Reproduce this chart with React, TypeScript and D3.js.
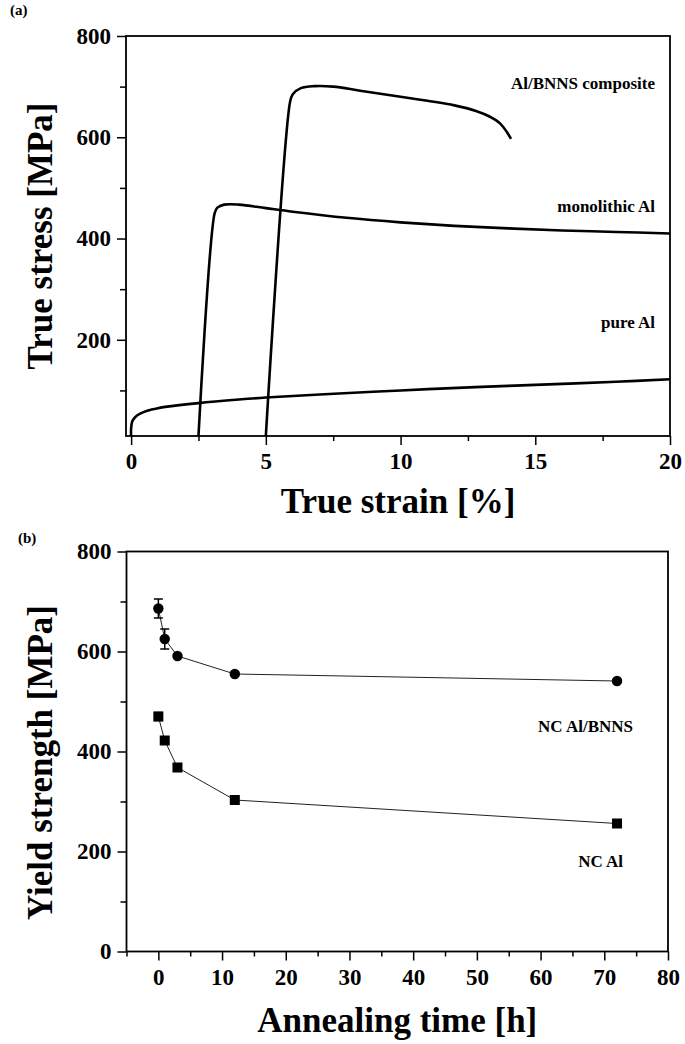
import React, { useEffect, useRef } from 'react';
import * as d3 from 'd3';

// (a) true stress-strain curves: [strain %, stress MPa]
const pureAl: [number, number][] = [
  [0, 10], [0, 25], [0.05, 40], [0.15, 47], [0.3, 53], [0.6, 60], [1, 65], [1.5, 69],
  [2.5, 75], [4, 82], [5, 86], [7, 92], [10, 100], [13, 107], [15, 111], [18, 117], [20, 122],
];
const monolithicAl: [number, number][] = [
  [2.5, 10], [3.1, 450], [3.2, 461], [3.45, 467], [4, 467], [5, 460], [6, 453], [8, 441],
  [10, 432], [12, 425], [14, 420], [16, 416], [18, 413], [20, 410],
];
const composite: [number, number][] = [
  [5.0, 10], [5.9, 670], [6.0, 685], [6.3, 697], [6.8, 701], [7.5, 700], [8.5, 692],
  [10, 680], [11, 672], [12, 663], [12.8, 652], [13.3, 641], [13.7, 627], [13.95, 610], [14.1, 597],
];
const curveLabels = ['Al/BNNS composite', 'monolithic Al', 'pure Al'];

// (b) yield strength vs annealing time
const annealTime = [0, 1, 3, 12, 72];
const compositeYS = [686, 625, 591, 555, 541];
const compositeErr = [19, 20, 3, 3, 3];
const ncAlYS = [470, 422, 368, 303, 256];
const ncAlErr = [8, 6, 4, 4, 4];
const seriesLabels = ['NC Al/BNNS', 'NC Al'];

const strainTicks = [0, 5, 10, 15, 20];
const strainMinor = [2.5, 7.5, 12.5, 17.5];
const stressTicks = [200, 400, 600, 800];
const stressMinor = [100, 300, 500, 700];
const timeTicks = [0, 10, 20, 30, 40, 50, 60, 70, 80];
const timeMinor = [-5, 5, 15, 25, 35, 45, 55, 65, 75];
const ysTicks = [0, 200, 400, 600, 800];
const ysMinor = [100, 300, 500, 700];

const FONT = '"Liberation Serif", "Times New Roman", serif';

export default function App() {
  const ref = useRef<SVGSVGElement>(null);

  useEffect(() => {
    const svg = d3.select(ref.current);
    svg.selectAll('*').remove();

    const styleAxis = (g: any) => {
      g.select('.domain').remove();
      g.selectAll('line').attr('stroke', '#000').attr('stroke-width', 1.5);
      g.selectAll('text')
        .attr('font-family', FONT)
        .attr('font-size', 23)
        .attr('font-weight', 'bold')
        .attr('fill', '#000');
    };

    // ---------- panel (a) ----------
    const xA = d3.scaleLinear().domain([-0.19, 20]).range([126, 670]);
    const yA = d3.scaleLinear().domain([10, 800]).range([436, 36]);

    svg.append('g').attr('transform', `translate(0,${yA.range()[0]})`)
      .call(d3.axisBottom(xA).tickValues(strainTicks).tickSize(9).tickPadding(8).tickFormat(d3.format('d')))
      .call(styleAxis);
    svg.append('g').attr('transform', `translate(0,${yA.range()[0]})`)
      .call(d3.axisBottom(xA).tickValues(strainMinor).tickSize(5).tickFormat(() => ''))
      .call(styleAxis);
    svg.append('g').attr('transform', `translate(${xA.range()[0]},0)`)
      .call(d3.axisLeft(yA).tickValues(stressTicks).tickSize(9).tickPadding(6).tickFormat(d3.format('d')))
      .call(styleAxis);
    svg.append('g').attr('transform', `translate(${xA.range()[0]},0)`)
      .call(d3.axisLeft(yA).tickValues(stressMinor).tickSize(6).tickFormat(() => ''))
      .call(styleAxis);

    svg.append('rect')
      .attr('x', xA.range()[0]).attr('y', yA.range()[1])
      .attr('width', xA.range()[1] - xA.range()[0]).attr('height', yA.range()[0] - yA.range()[1])
      .attr('fill', 'none').attr('stroke', '#000').attr('stroke-width', 1.8);

    const lineA = d3.line<[number, number]>()
      .x(d => xA(d[0]))
      .y(d => yA(d[1]))
      .curve(d3.curveCatmullRom.alpha(0.5));

    [composite, monolithicAl, pureAl].forEach(s => {
      svg.append('path')
        .datum(s)
        .attr('fill', 'none')
        .attr('stroke', '#000')
        .attr('stroke-width', 2.6)
        .attr('d', lineA);
    });

    const labelYA = [89, 212, 328];
    curveLabels.forEach((t, i) => {
      svg.append('text')
        .attr('x', 655).attr('y', labelYA[i])
        .attr('text-anchor', 'end')
        .attr('font-family', FONT).attr('font-size', 17).attr('font-weight', 'bold')
        .text(t);
    });

    svg.append('text')
      .attr('transform', `translate(52,${(yA.range()[0] + yA.range()[1]) / 2}) rotate(-90)`)
      .attr('text-anchor', 'middle')
      .attr('font-family', FONT).attr('font-size', 35).attr('font-weight', 'bold')
      .text('True stress [MPa]');
    svg.append('text')
      .attr('x', (xA.range()[0] + xA.range()[1]) / 2).attr('y', 513)
      .attr('text-anchor', 'middle')
      .attr('font-family', FONT).attr('font-size', 35).attr('font-weight', 'bold')
      .text('True strain [%]');
    svg.append('text')
      .attr('x', 10).attr('y', 15)
      .attr('font-family', FONT).attr('font-size', 15).attr('font-weight', 'bold')
      .text('(a)');

    // ---------- panel (b) ----------
    const xB = d3.scaleLinear().domain([-5, 80]).range([126.5, 668]);
    const yB = d3.scaleLinear().domain([0, 800]).range([951.5, 551.5]);

    svg.append('g').attr('transform', `translate(0,${yB.range()[0]})`)
      .call(d3.axisBottom(xB).tickValues(timeTicks).tickSize(9).tickPadding(8).tickFormat(d3.format('d')))
      .call(styleAxis);
    svg.append('g').attr('transform', `translate(0,${yB.range()[0]})`)
      .call(d3.axisBottom(xB).tickValues(timeMinor).tickSize(5).tickFormat(() => ''))
      .call(styleAxis);
    svg.append('g').attr('transform', `translate(${xB.range()[0]},0)`)
      .call(d3.axisLeft(yB).tickValues(ysTicks).tickSize(9).tickPadding(6).tickFormat(d3.format('d')))
      .call(styleAxis);
    svg.append('g').attr('transform', `translate(${xB.range()[0]},0)`)
      .call(d3.axisLeft(yB).tickValues(ysMinor).tickSize(6).tickFormat(() => ''))
      .call(styleAxis);

    svg.append('rect')
      .attr('x', xB.range()[0]).attr('y', yB.range()[1])
      .attr('width', xB.range()[1] - xB.range()[0]).attr('height', yB.range()[0] - yB.range()[1])
      .attr('fill', 'none').attr('stroke', '#000').attr('stroke-width', 1.8);

    const lineB = d3.line<number>()
      .x((_, i) => xB(annealTime[i]))
      .y(d => yB(d));

    const drawSeries = (vals: number[], errs: number[], shape: 'circle' | 'square') => {
      svg.append('path')
        .datum(vals)
        .attr('fill', 'none')
        .attr('stroke', '#222')
        .attr('stroke-width', 1)
        .attr('d', lineB);
      const g = svg.append('g');
      vals.forEach((v, i) => {
        const cx = xB(annealTime[i]);
        const top = yB(v + errs[i]);
        const bot = yB(v - errs[i]);
        g.append('line').attr('x1', cx).attr('x2', cx).attr('y1', top).attr('y2', bot)
          .attr('stroke', '#000').attr('stroke-width', 1.5);
        [top, bot].forEach(yy => {
          g.append('line').attr('x1', cx - 4.5).attr('x2', cx + 4.5).attr('y1', yy).attr('y2', yy)
            .attr('stroke', '#000').attr('stroke-width', 1.5);
        });
        if (shape === 'circle') {
          g.append('circle').attr('cx', cx).attr('cy', yB(v)).attr('r', 5.2).attr('fill', '#000');
        } else {
          g.append('rect').attr('x', cx - 5).attr('y', yB(v) - 5).attr('width', 10).attr('height', 10).attr('fill', '#000');
        }
      });
    };
    drawSeries(compositeYS, compositeErr, 'circle');
    drawSeries(ncAlYS, ncAlErr, 'square');

    const labelPosB: [number, number][] = [[633, 732], [623, 867]];
    seriesLabels.forEach((t, i) => {
      svg.append('text')
        .attr('x', labelPosB[i][0]).attr('y', labelPosB[i][1])
        .attr('text-anchor', 'end')
        .attr('font-family', FONT).attr('font-size', 17).attr('font-weight', 'bold')
        .text(t);
    });

    svg.append('text')
      .attr('transform', `translate(52,${(yB.range()[0] + yB.range()[1]) / 2 + 11}) rotate(-90)`)
      .attr('text-anchor', 'middle')
      .attr('font-family', FONT).attr('font-size', 35).attr('font-weight', 'bold')
      .text('Yield strength [MPa]');
    svg.append('text')
      .attr('x', (xB.range()[0] + xB.range()[1]) / 2).attr('y', 1032)
      .attr('text-anchor', 'middle')
      .attr('font-family', FONT).attr('font-size', 35).attr('font-weight', 'bold')
      .text('Annealing time [h]');
    svg.append('text')
      .attr('x', 18).attr('y', 543)
      .attr('font-family', FONT).attr('font-size', 15).attr('font-weight', 'bold')
      .text('(b)');
  }, []);

  return (
    <svg
      ref={ref}
      width={685}
      height={1044}
      style={{ position: 'absolute', left: 0, top: 0, background: '#fff' }}
    />
  );
}
